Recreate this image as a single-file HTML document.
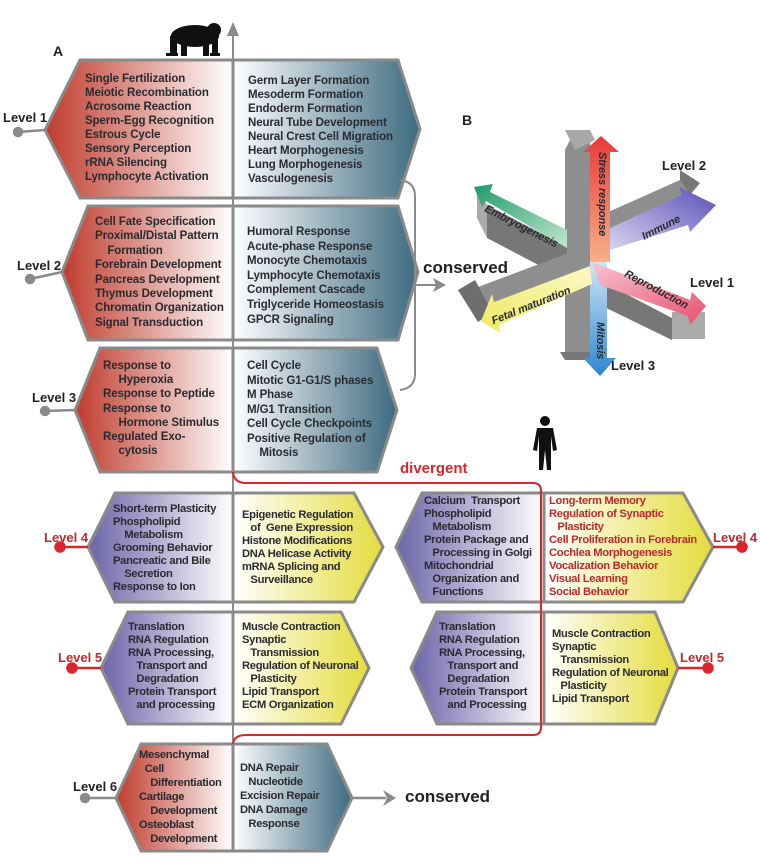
<!DOCTYPE html>
<html><head><meta charset="utf-8">
<style>
body{margin:0;background:#fff;}
#c{position:relative;width:760px;height:863px;overflow:hidden;font-family:"Liberation Sans",sans-serif;}
.t{position:absolute;font-weight:bold;font-size:11.5px;color:#2a2a30;white-space:pre;letter-spacing:-0.1px;}
.s{font-size:11.2px;letter-spacing:-0.3px;}
.r{color:#c0282d;}
.lab{position:absolute;font-weight:bold;font-size:13px;color:#222;}
.rl{color:#c0282d;}
</style></head><body><div id="c">
<svg width="760" height="863" style="position:absolute;left:0;top:0">
<defs>
<linearGradient id="red" x1="0" x2="1" y1="0" y2="0"><stop offset="0" stop-color="#bf3b2c"/><stop offset="1" stop-color="#ffffff"/></linearGradient>
<linearGradient id="blue" x1="0" x2="1" y1="0" y2="0"><stop offset="0" stop-color="#ffffff"/><stop offset="1" stop-color="#3d6a80"/></linearGradient>
<linearGradient id="pur" x1="0" x2="1" y1="0" y2="0"><stop offset="0" stop-color="#6c64a8"/><stop offset="1" stop-color="#ffffff"/></linearGradient>
<linearGradient id="yel" x1="0" x2="1" y1="0" y2="0"><stop offset="0" stop-color="#ffffff"/><stop offset="1" stop-color="#e4dc3c"/></linearGradient>
<linearGradient id="gs" x1="0" x2="0" y1="1" y2="0"><stop offset="0" stop-color="#f6b08a"/><stop offset="1" stop-color="#e83a3a"/></linearGradient>
<linearGradient id="gm" x1="0" x2="0" y1="0" y2="1"><stop offset="0" stop-color="#cfe6f6"/><stop offset="1" stop-color="#2f86d0"/></linearGradient>
<linearGradient id="ge" x1="1" x2="0" y1="1" y2="0"><stop offset="0" stop-color="#bfe6cf"/><stop offset="1" stop-color="#1f9a6a"/></linearGradient>
<linearGradient id="gi" x1="0" x2="1" y1="1" y2="0"><stop offset="0" stop-color="#d9d3ef"/><stop offset="1" stop-color="#5a4fb8"/></linearGradient>
<linearGradient id="gr" x1="0" x2="1" y1="0" y2="1"><stop offset="0" stop-color="#f7c3d0"/><stop offset="1" stop-color="#e8506e"/></linearGradient>
<linearGradient id="gf" x1="1" x2="0" y1="0" y2="1"><stop offset="0" stop-color="#fbf8c8"/><stop offset="1" stop-color="#f0ea60"/></linearGradient>
</defs>
<g stroke="#8a8a8a" stroke-width="3" stroke-linejoin="miter">
<polygon points="45,130 80,60 233,60 233,198 80,198" fill="url(#red)"/>
<polygon points="233,60 398,60 420,129 398,198 233,198" fill="url(#blue)"/>
<polygon points="62,272 88,206 233,206 233,340 88,340" fill="url(#red)"/>
<polygon points="233,206 398,206 418,272 398,340 233,340" fill="url(#blue)"/>
<polygon points="75,410 100,348 233,348 233,472 100,472" fill="url(#red)"/>
<polygon points="233,348 377,348 397,410 377,472 233,472" fill="url(#blue)"/>
<polygon points="88,547 115,493 233,493 233,602 115,602" fill="url(#pur)"/>
<polygon points="233,493 354,493 383,547 354,602 233,602" fill="url(#yel)"/>
<polygon points="396,547 422,493 544,493 544,602 422,602" fill="url(#pur)"/>
<polygon points="544,493 683,493 713,547 683,602 544,602" fill="url(#yel)"/>
<polygon points="101,668 128,612 233,612 233,724 128,724" fill="url(#pur)"/>
<polygon points="233,612 341,612 369,668 341,724 233,724" fill="url(#yel)"/>
<polygon points="411,668 437,612 544,612 544,724 437,724" fill="url(#pur)"/>
<polygon points="544,612 655,612 678,668 655,724 544,724" fill="url(#yel)"/>
<polygon points="116,798 141,744 233,744 233,851 141,851" fill="url(#red)"/>
<polygon points="233,744 327,744 352,798 327,851 233,851" fill="url(#blue)"/>
</g>
<line x1="233" y1="32" x2="233" y2="851" stroke="#8a8a8a" stroke-width="2"/>
<polygon points="233,22 227,36 239,36" fill="#8a8a8a"/>
<g stroke="#8a8a8a" stroke-width="2.5" fill="#8a8a8a">
<line x1="18" y1="132" x2="45" y2="130"/><circle cx="18" cy="132" r="4"/>
<line x1="30" y1="279" x2="62" y2="272"/><circle cx="30" cy="279" r="4"/>
<line x1="45" y1="411" x2="75" y2="410"/><circle cx="45" cy="411" r="4"/>
<line x1="85" y1="798" x2="116" y2="798"/><circle cx="85" cy="798" r="4"/>
<line x1="352" y1="798" x2="386" y2="798"/>
</g>
<polygon points="396,798 383,790 387,798 383,806" fill="#8a8a8a"/>
<g stroke="#d8262c" stroke-width="2.5" fill="#d8262c">
<line x1="60" y1="547" x2="88" y2="547"/><circle cx="60" cy="547" r="4.5"/>
<line x1="713" y1="547" x2="742" y2="547"/><circle cx="742" cy="547" r="4.5"/>
<line x1="72" y1="668" x2="101" y2="668"/><circle cx="72" cy="668" r="4.5"/>
<line x1="678" y1="668" x2="708" y2="668"/><circle cx="708" cy="668" r="4.5"/>
</g>
<path d="M233,472 Q234,483 246,483 L533,483 Q541,483 541,491 L541,727 Q541,735 533,735 L246,735 Q234,735 233,744" fill="none" stroke="#d8262c" stroke-width="2"/>
<path d="M400,180 Q415,182 415,196 L415,374 Q415,388 400,390" fill="none" stroke="#8a8a8a" stroke-width="2"/>
<line x1="415" y1="285" x2="436" y2="285" stroke="#8a8a8a" stroke-width="2"/>
<polygon points="446,285 433,278 436,285 433,292" fill="#8a8a8a"/>
<g fill="#111">
<ellipse cx="195" cy="36" rx="24" ry="11"/>
<circle cx="214" cy="30" r="7"/>
<rect x="170" y="36" width="7" height="20"/><rect x="181" y="40" width="6" height="16"/>
<rect x="203" y="38" width="6" height="18"/><rect x="212" y="36" width="6" height="20"/>
<rect x="166" y="53" width="12" height="3"/><rect x="210" y="53" width="10" height="3"/>
</g>
<g fill="#111">
<circle cx="545" cy="421" r="5"/>
<path d="M537,428 L553,428 L557,450 L553,451 L551,436 L551,470 L547,470 L545,450 L543,470 L539,470 L539,436 L537,451 L533,450 Z"/>
</g>
<g>
<polygon points="565,150 575,130 590,130 590,260 565,270" fill="#8e8e8e"/>
<polygon points="565,130 590,130 595,140 575,150" fill="#a8a8a8"/>
<polygon points="565,262 590,262 590,355 565,355" fill="#8e8e8e"/>
<polygon points="560,352 590,352 592,360 565,360" fill="#777"/>
<polygon points="487,205 567,247 567,280 487,238" fill="#777"/>
<polygon points="477,190 487,205 487,238 477,218" fill="#aaa"/>
<polygon points="595,218 680,180 690,195 610,230" fill="#8e8e8e"/>
<polygon points="680,170 700,183 690,195 680,180" fill="#777"/>
<polygon points="590,275 672,318 672,340 590,300" fill="#777"/>
<rect x="672" y="312" width="33" height="27" fill="#aaa"/>
<polygon points="470,290 590,245 590,268 490,312" fill="#8e8e8e"/>
<polygon points="458,290 475,280 492,312 478,322" fill="#6e6e6e"/>
<polygon points="590,262 590,152 583,152 601,136 619,152 610,152 610,262" fill="url(#gs)"/>
<polygon points="590,262 590,358 583,358 600,376 616,358 607,358 607,262" fill="url(#gm)"/>
<polygon points="567,230 490,192 493,184 474,187 482,207 486,201 567,248" fill="url(#ge)"/>
<polygon points="610,228 682,195 679,187 716,205 690,232 688,225 610,250" fill="url(#gi)"/>
<polygon points="592,262 690,300 692,292 706,306 690,325 688,316 600,285" fill="url(#gr)"/>
<polygon points="590,266 494,302 492,294 481,321 500,333 499,325 592,284" fill="url(#gf)"/>
</g>
</svg>
<div class="t" style="left:462px;top:112px;font-size:14px;color:#222">B</div>
<div class="t" style="left:53px;top:43px;font-size:14px;color:#222">A</div>
<div class="t" style="left:488px;top:203px;font-size:11px;font-style:italic;transform:rotate(27deg);transform-origin:left top">Embryogenesis</div>
<div class="t" style="left:608px;top:152px;font-size:11px;font-style:italic;transform:rotate(90deg);transform-origin:left top">Stress response</div>
<div class="t" style="left:640px;top:232px;font-size:11px;font-style:italic;transform:rotate(-27deg);transform-origin:left top">Immune</div>
<div class="t" style="left:628px;top:268px;font-size:11px;font-style:italic;transform:rotate(28deg);transform-origin:left top">Reproduction</div>
<div class="t" style="left:490px;top:316px;font-size:11px;font-style:italic;transform:rotate(-22deg);transform-origin:left top">Fetal maturation</div>
<div class="t" style="left:606px;top:322px;font-size:11px;font-style:italic;transform:rotate(90deg);transform-origin:left top">Mitosis</div>
<div class="lab" style="left:662px;top:158px">Level 2</div>
<div class="lab" style="left:690px;top:275px">Level 1</div>
<div class="lab" style="left:611px;top:358px">Level 3</div>
<div class="lab" style="left:423px;top:258px;font-size:17px">conserved</div>
<div class="lab" style="left:405px;top:787px;font-size:17px">conserved</div>
<div class="lab rl" style="left:400px;top:460px;font-size:15px;color:#d8262c">divergent</div>
<div class="lab" style="left:3px;top:110px">Level 1</div>
<div class="lab" style="left:17px;top:258px">Level 2</div>
<div class="lab" style="left:32px;top:390px">Level 3</div>
<div class="lab rl" style="left:44px;top:530px">Level 4</div>
<div class="lab rl" style="left:713px;top:530px">Level 4</div>
<div class="lab rl" style="left:58px;top:650px">Level 5</div>
<div class="lab rl" style="left:680px;top:650px">Level 5</div>
<div class="lab" style="left:73px;top:779px">Level 6</div>
<div class="t" style="left:85px;top:72px;line-height:14px">Single Fertilization
Meiotic Recombination
Acrosome Reaction
Sperm-Egg Recognition
Estrous Cycle
Sensory Perception
rRNA Silencing
Lymphocyte Activation</div>
<div class="t" style="left:248px;top:74px;line-height:14px">Germ Layer Formation
Mesoderm Formation
Endoderm Formation
Neural Tube Development
Neural Crest Cell Migration
Heart Morphogenesis
Lung Morphogenesis
Vasculogenesis</div>
<div class="t" style="left:95px;top:215px;line-height:14.4px">Cell Fate Specification
Proximal/Distal Pattern
    Formation
Forebrain Development
Pancreas Development
Thymus Development
Chromatin Organization
Signal Transduction</div>
<div class="t" style="left:247px;top:225px;line-height:14.6px">Humoral Response
Acute-phase Response
Monocyte Chemotaxis
Lymphocyte Chemotaxis
Complement Cascade
Triglyceride Homeostasis
GPCR Signaling</div>
<div class="t" style="left:103px;top:359px;line-height:14.2px">Response to
     Hyperoxia
Response to Peptide
Response to
     Hormone Stimulus
Regulated Exo-
     cytosis</div>
<div class="t" style="left:247px;top:359px;line-height:14.5px">Cell Cycle
Mitotic G1-G1/S phases
M Phase
M/G1 Transition
Cell Cycle Checkpoints
Positive Regulation of
    Mitosis</div>
<div class="t s" style="left:113px;top:503px;line-height:13px">Short-term Plasticity
Phospholipid
    Metabolism
Grooming Behavior
Pancreatic and Bile
    Secretion
Response to Ion</div>
<div class="t s" style="left:242px;top:509px;line-height:13px">Epigenetic Regulation
   of  Gene Expression
Histone Modifications
DNA Helicase Activity
mRNA Splicing and
   Surveillance</div>
<div class="t s" style="left:424px;top:495px;line-height:13px">Calcium  Transport
Phospholipid
   Metabolism
Protein Package and
   Processing in Golgi
Mitochondrial
   Organization and
   Functions</div>
<div class="t r s" style="left:549px;top:495px;line-height:13px">Long-term Memory
Regulation of Synaptic
   Plasticity
Cell Proliferation in Forebrain
Cochlea Morphogenesis
Vocalization Behavior
Visual Learning
Social Behavior</div>
<div class="t s" style="left:128px;top:621px;line-height:13px">Translation
RNA Regulation
RNA Processing,
   Transport and
   Degradation
Protein Transport
   and processing</div>
<div class="t s" style="left:242px;top:621px;line-height:13px">Muscle Contraction
Synaptic
   Transmission
Regulation of Neuronal
   Plasticity
Lipid Transport
ECM Organization</div>
<div class="t s" style="left:439px;top:621px;line-height:13px">Translation
RNA Regulation
RNA Processing,
   Transport and
   Degradation
Protein Transport
   and Processing</div>
<div class="t s" style="left:552px;top:628px;line-height:13px">Muscle Contraction
Synaptic
   Transmission
Regulation of Neuronal
   Plasticity
Lipid Transport</div>
<div class="t s" style="left:139px;top:748px;line-height:14px">Mesenchymal
  Cell
    Differentiation
Cartilage
    Development
Osteoblast
    Development</div>
<div class="t s" style="left:240px;top:761px;line-height:14px">DNA Repair
   Nucleotide
Excision Repair
DNA Damage
   Response</div>
</div></body></html>
